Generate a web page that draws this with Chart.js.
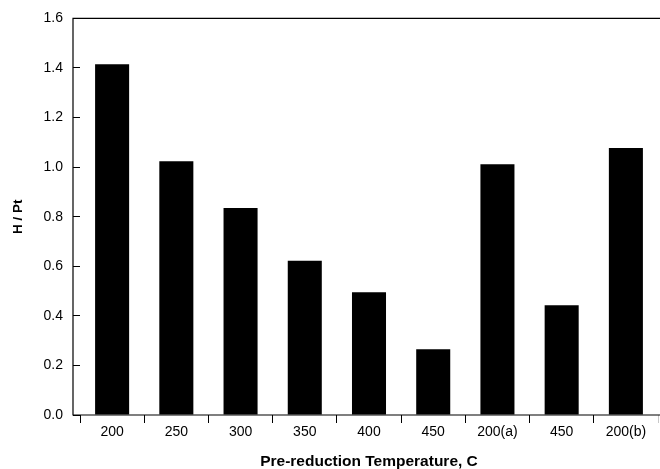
<!DOCTYPE html>
<html>
<head>
<meta charset="utf-8">
<script src="https://cdn.jsdelivr.net/npm/chart.js@4.4.0/dist/chart.umd.min.js"></script>
<style>
  body { margin: 0; background: #fff; }
  canvas { display: block; }
</style>
</head>
<body>
<canvas id="hpt-chart" width="660" height="469"></canvas>
<script>
const categories = ['200', '250', '300', '350', '400', '450', '200(a)', '450', '200(b)'];
const hPt = [1.415, 1.024, 0.835, 0.622, 0.495, 0.265, 1.012, 0.443, 1.077];
const yTicks = [0, 0.2, 0.4, 0.6, 0.8, 1.0, 1.2, 1.4, 1.6];

const FONT = 'Liberation Sans, Arial, Helvetica, sans-serif';

// open frame: left, top and bottom lines, left line sits a bit outside the plot
const framePlugin = {
    id: 'frame',
    afterDraw(chart) {
        const { ctx, chartArea } = chart;
        const x0 = chartArea.left - 7;
        ctx.save();
        ctx.strokeStyle = '#000';
        ctx.lineWidth = 1.2;
        ctx.beginPath();
        ctx.moveTo(chart.width, chartArea.top);
        ctx.lineTo(x0, chartArea.top);
        ctx.lineTo(x0, chartArea.bottom);
        ctx.lineTo(chart.width, chartArea.bottom);
        ctx.stroke();
        ctx.restore();
    }
};

const ctx = document.getElementById('hpt-chart').getContext('2d');
new Chart(ctx, {
    type: 'bar',
    data: {
        labels: categories,
        datasets: [{
            label: 'H / Pt',
            data: hPt,
            backgroundColor: '#000',
            borderWidth: 0,
            barPercentage: 0.53,
            categoryPercentage: 1.0
        }]
    },
    options: {
        responsive: false,
        animation: false,
        layout: { padding: { top: 15, right: 2, left: 0, bottom: 0 } },
        plugins: {
            legend: { display: false },
            tooltip: { enabled: false }
        },
        scales: {
            x: {
                grid: {
                    offset: true,
                    drawOnChartArea: false,
                    drawTicks: true,
                    tickLength: 8,
                    // the tick at the far right edge is only faint
                    color: c => c.type === 'scale' ? '#c8c8c8' : '#000',
                    lineWidth: 1
                },
                border: { display: false },
                ticks: {
                    color: '#000',
                    padding: 1,
                    maxRotation: 0,
                    autoSkip: false,
                    font: { family: FONT, size: 14 }
                },
                title: {
                    display: true,
                    text: 'Pre-reduction Temperature, C',
                    color: '#000',
                    font: { family: FONT, size: 15.5, weight: 'bold', lineHeight: 1 },
                    padding: { top: 0, bottom: 0 }
                },
                afterFit(scale) { scale.height = 54; }
            },
            y: {
                min: 0,
                max: 1.6,
                afterBuildTicks(scale) {
                    scale.ticks = yTicks.map(v => ({ value: v }));
                },
                grid: {
                    drawOnChartArea: false,
                    drawTicks: true,
                    tickLength: 7,
                    color: '#000',
                    lineWidth: 1
                },
                border: { display: false },
                ticks: {
                    color: '#000',
                    padding: 10,
                    font: { family: FONT, size: 14 },
                    callback: v => Number(v).toFixed(1)
                },
                title: {
                    display: true,
                    text: 'H / Pt',
                    color: '#000',
                    font: { family: FONT, size: 13.5, weight: 'bold', lineHeight: 1.2 },
                    padding: { top: 10, bottom: 0 }
                },
                afterFit(scale) { scale.width = 80; }
            }
        }
    },
    plugins: [framePlugin]
});
</script>
</body>
</html>
